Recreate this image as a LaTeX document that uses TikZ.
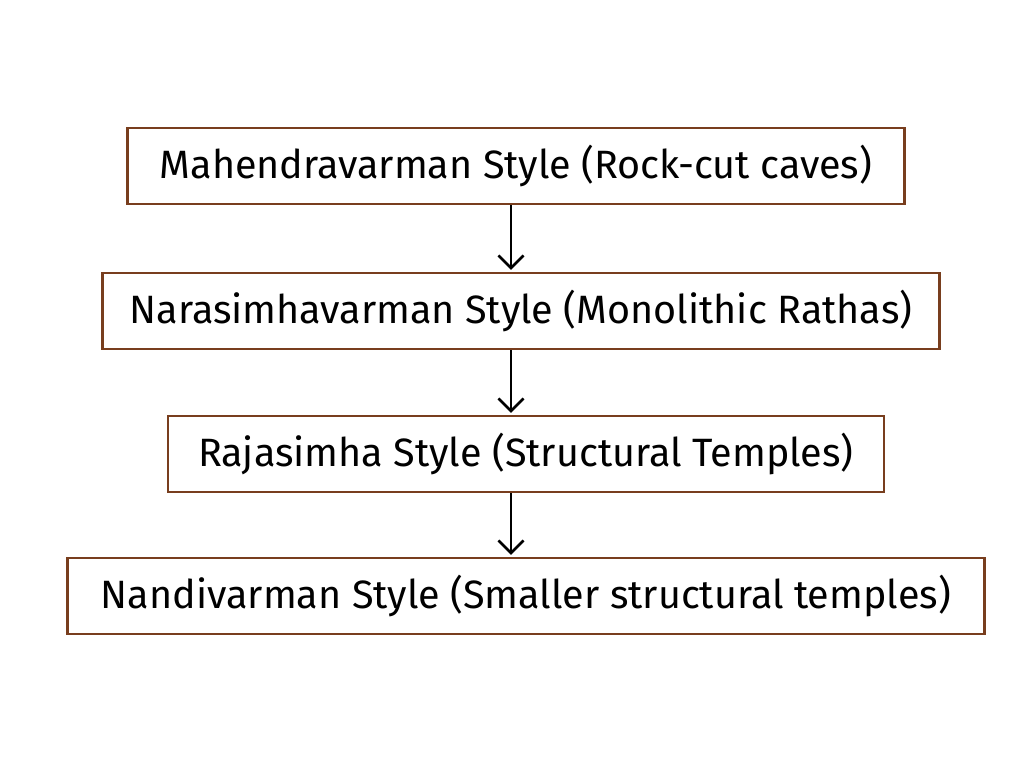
\documentclass[tikz,border=0pt]{standalone}
\usepackage{fontspec}
\setmainfont{Fira Sans}
\usetikzlibrary{positioning,arrows.meta}
\definecolor{boxbrown}{RGB}{120,62,30}
\begin{document}
\begin{tikzpicture}[x=0.02cm,y=0.02cm]

\tikzset{stylebox/.style = {rectangle, draw=boxbrown, line width=1.6pt, minimum height=1.52cm, text centered, font=\fontsize{22.5}{26}\selectfont}}
\tikzset{arrow/.style = {line width=1.5pt,-{Straight Barb[length=2.5mm,width=5mm]}, shorten >=1pt}}

\useasboundingbox (0,0) rectangle (1024,768);

\node (mahendra) [stylebox, minimum width=15.54cm] at (516,602) {Mahendravarman Style (Rock-cut caves)};
\node (narasimha) [stylebox, minimum width=16.74cm] at (521,457) {Narasimhavarman Style (Monolithic Rathas)};
\node (rajasimha) [stylebox, minimum width=14.32cm] at (526,314) {Rajasimha Style (Structural Temples)};
\node (nandi) [stylebox, minimum width=18.34cm] at (526,172) {Nandivarman Style (Smaller structural temples)};
\coordinate (axis) at (511,0);

\draw [arrow] (mahendra.south -| axis) -- (narasimha.north -| axis);
\draw [arrow] (narasimha.south -| axis) -- (rajasimha.north -| axis);
\draw [arrow] (rajasimha.south -| axis) -- (nandi.north -| axis);

\end{tikzpicture}
\end{document}
